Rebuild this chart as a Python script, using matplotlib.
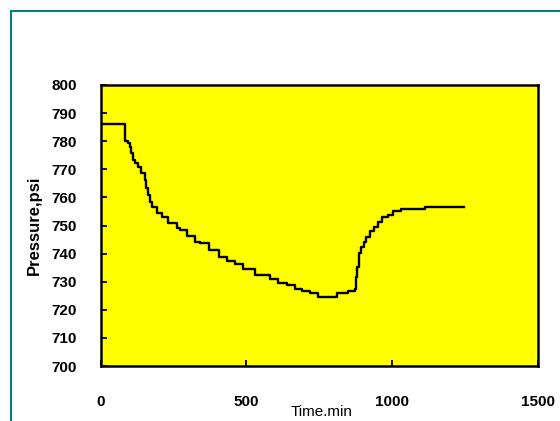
import matplotlib.pyplot as plt
from matplotlib.patches import Rectangle

# pressure record (step trace)
time_min = [0, 85, 93, 101, 105, 110, 119, 130, 140, 151, 156, 162, 170, 178,
            193, 210, 233, 262, 273, 296, 324, 342, 371, 405, 434, 462, 490,
            530, 581, 610, 638, 667, 690, 718, 747, 810, 848, 873, 875, 879,
            885, 894, 905, 911, 925, 939, 951, 966, 985, 1002, 1031, 1111, 1248]
pressure_psi = [786, 780.2, 779.2, 777.8, 775.7, 773.3, 772.1, 770.9, 768.6,
                766.2, 763.2, 760.9, 758.5, 756.7, 754.3, 753.1, 750.8, 749.0,
                748.4, 746.3, 744.2, 743.7, 741.3, 738.9, 737.4, 736.2, 734.5,
                732.4, 731.0, 729.7, 728.8, 727.4, 726.8, 726.1, 724.7, 726.1,
                726.8, 727.3, 731.8, 735.3, 740.1, 742.5, 744.2, 746.0, 748.1,
                749.6, 751.4, 753.1, 753.7, 755.2, 755.8, 756.5, 756.7]

x_ticks = [0, 500, 1000, 1500]
y_ticks = list(range(700, 801, 10))

plt.rcParams['font.family'] = ['Liberation Sans', 'DejaVu Sans']

fig = plt.figure(figsize=(5.6, 4.21), dpi=100)
fig.patches.append(Rectangle((11 / 560, -0.1), 1.2, 0.1 + 1 - 11 / 421,
                             transform=fig.transFigure, fill=False,
                             edgecolor='#008080', linewidth=1.5))

ax = fig.add_axes([100.5 / 560, 1 - 366 / 421, 437.5 / 560, 281 / 421])
ax.set_facecolor('#ffff00')
ax.plot(time_min, pressure_psi, drawstyle='steps-post', color='black', linewidth=1.7)

ax.set_xlim(0, 1500)
ax.set_ylim(700, 800)
ax.set_xticks(x_ticks)
ax.set_yticks(y_ticks)
for s in ax.spines.values():
    s.set_linewidth(1.8)
ax.tick_params(axis='y', direction='in', length=4, width=1.3, pad=17, labelsize=11)
ax.tick_params(axis='x', direction='in', length=4, width=1.3, pad=21, labelsize=11)
for lbl in ax.get_xticklabels() + ax.get_yticklabels():
    lbl.set_fontweight('bold')

ax.set_ylabel('Pressure,psi', fontsize=12, fontweight='bold', labelpad=7)
fig.text(322 / 560, 1.5 / 421, 'Time.min', fontsize=11, ha='center', va='bottom')

fig.savefig('out.png', dpi=100)
